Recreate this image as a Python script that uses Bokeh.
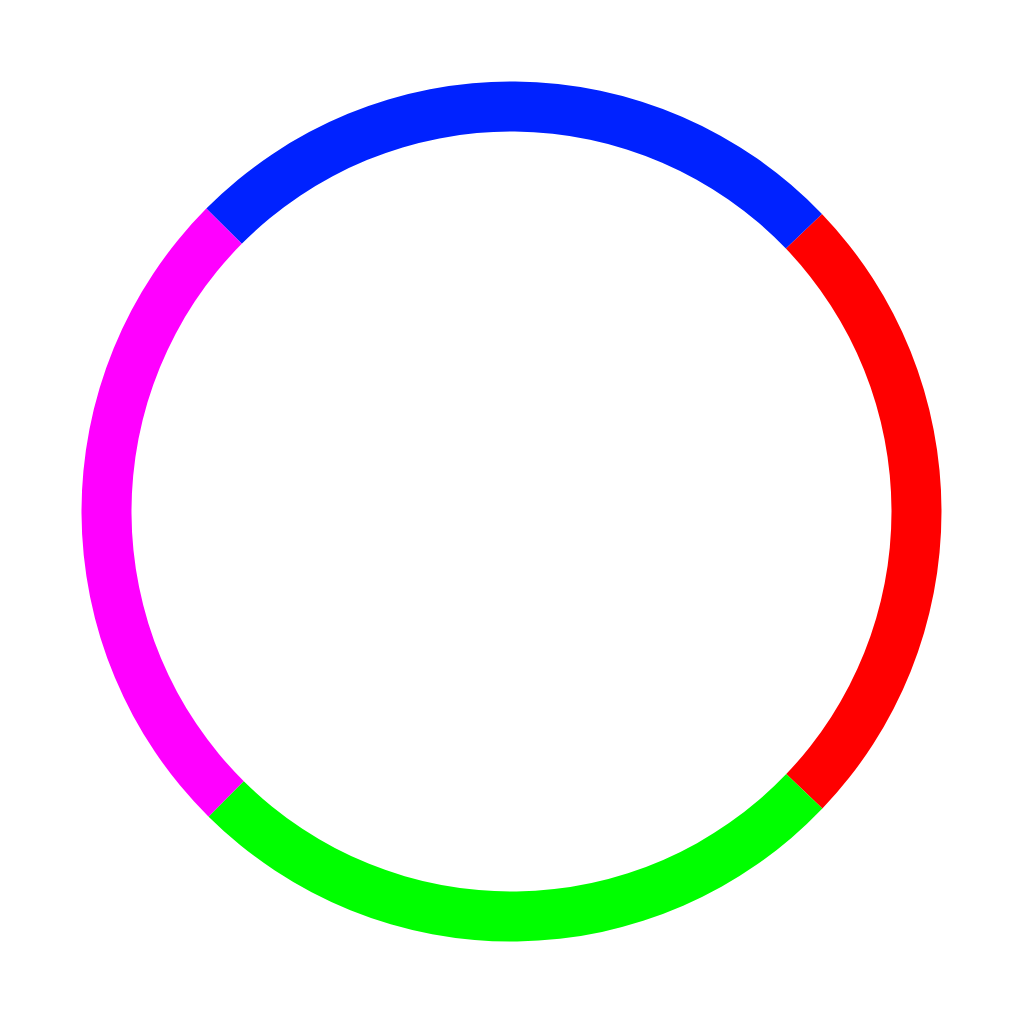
import numpy as np
from bokeh.plotting import figure
from bokeh.models import ColumnDataSource
from bokeh.embed import file_html
from bokeh.resources import INLINE

categories = ["Red", "Blue", "Magenta", "Green"]
values = [24.3, 25.4, 25.0, 25.3]
colors = ["#FF0000", "#0022FF", "#FF00FF", "#00FF00"]
start_deg = -43.7

vals = np.array(values, dtype=float)
ang = vals / vals.sum() * 2 * np.pi
ends = np.deg2rad(start_deg) + np.cumsum(ang)
starts = ends - ang

src = ColumnDataSource(dict(cat=categories, start=starts, end=ends, color=colors))

p = figure(width=1008, height=1008, output_backend="svg", toolbar_location=None,
           x_range=(-511, 497), y_range=(-497, 511), min_border=0)
p.annular_wedge(x=0, y=0, inner_radius=380, outer_radius=430,
                start_angle="start", end_angle="end", color="color",
                line_color=None, source=src)
p.axis.visible = False
p.grid.visible = False
p.outline_line_color = None
p.background_fill_color = "white"
p.border_fill_color = "white"

open("out.html", "w").write(file_html(p, INLINE))
